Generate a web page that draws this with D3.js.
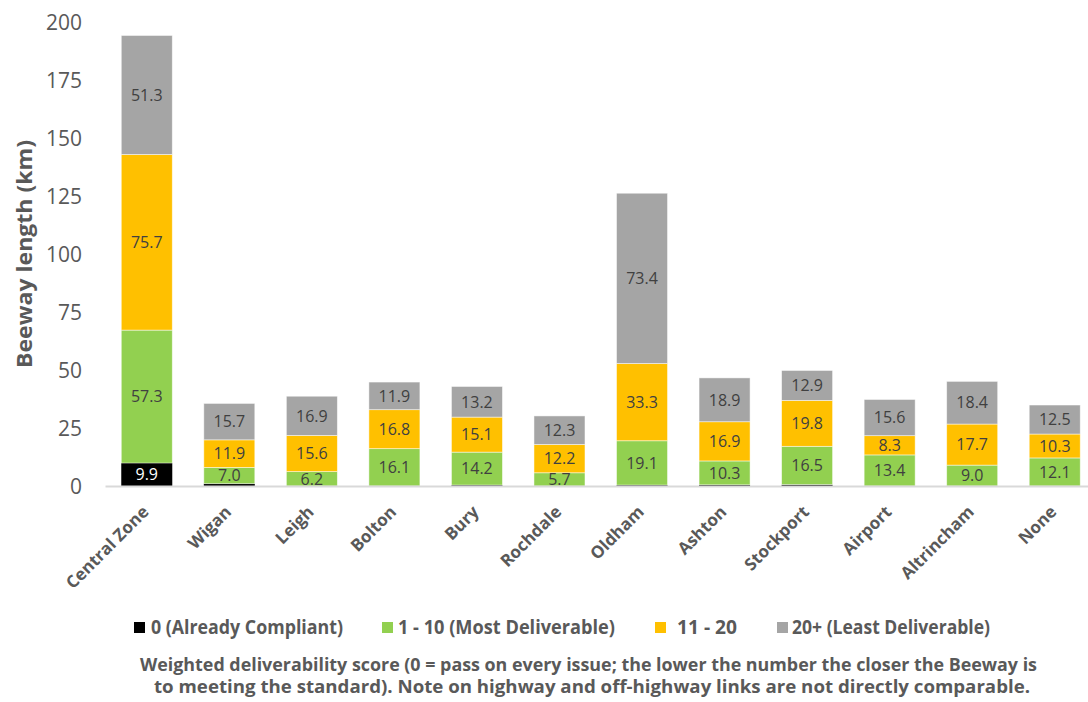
<!DOCTYPE html>
<html>
<head>
<meta charset="utf-8">
<script src="https://cdn.jsdelivr.net/npm/d3@7"></script>
<style>
html,body{margin:0;padding:0;background:#fff;}
svg{display:block;}
</style>
</head>
<body>
<svg id="chart" width="1088" height="702"></svg>
<script>
const categories = ["Central Zone","Wigan","Leigh","Bolton","Bury","Rochdale","Oldham","Ashton","Stockport","Airport","Altrincham","None"];
const compliant   = [9.9, 1.0, 0, 0, 0.4, 0, 0.4, 0.5, 0.6, 0, 0, 0];
const mostDeliv   = [57.3, 7.0, 6.2, 16.1, 14.2, 5.7, 19.1, 10.3, 16.5, 13.4, 9.0, 12.1];
const mid         = [75.7, 11.9, 15.6, 16.8, 15.1, 12.2, 33.3, 16.9, 19.8, 8.3, 17.7, 10.3];
const leastDeliv  = [51.3, 15.7, 16.9, 11.9, 13.2, 12.3, 73.4, 18.9, 12.9, 15.6, 18.4, 12.5];
const seriesNames = ["0 (Already Compliant)","1 - 10 (Most Deliverable)","11 - 20","20+ (Least Deliverable)"];
const yTicks = [0,25,50,75,100,125,150,175,200];
const yTitle = "Beeway length (km)";
const captionLines = ["Weighted deliverability score (0 = pass on every issue; the lower the number the closer the Beeway is",
                      "to meeting the standard). Note on highway and off-highway links are not directly comparable."];

const colors = ["#000000","#92D050","#FFC000","#A5A5A5"];
const labelColors = ["#FFFFFF","#404040","#404040","#404040"];
const seriesValues = [compliant, mostDeliv, mid, leastDeliv];
const keys = ["s0","s1","s2","s3"];
const table = categories.map((c,i)=>{
  const o = {cat:c};
  keys.forEach((k,j)=>o[k]=seriesValues[j][i]);
  return o;
});

const svg = d3.select("#chart");
const x = d3.scaleBand().domain(categories).range([105.5,1096]).paddingInner(0.382).paddingOuter(0.191);
const y = d3.scaleLinear().domain([0,200]).range([486,22]);

const stack = d3.stack().keys(keys)(table);

const g = svg.append("g");
stack.forEach((layer,si)=>{
  g.append("g").selectAll("rect").data(layer).join("rect")
    .attr("x",d=>x(d.data.cat))
    .attr("width",x.bandwidth())
    .attr("y",d=>y(d[1]))
    .attr("height",d=>Math.max(0,y(d[0])-y(d[1])))
    .attr("fill",colors[si])
    .attr("stroke",si===0?"none":"#ffffff")
    .attr("stroke-opacity",0.6)
    .attr("stroke-width",0.8);
});
// labels
stack.forEach((layer,si)=>{
  g.append("g").selectAll("text").data(layer.filter(d=>(d[1]-d[0])>=5)).join("text")
    .attr("x",d=>x(d.data.cat)+x.bandwidth()/2)
    .attr("y",d=>y((d[0]+d[1])/2))
    .attr("dy","0.36em")
    .attr("text-anchor","middle")
    .attr("font-family","'Open Sans', sans-serif")
    .attr("font-size",16)
    .attr("fill",labelColors[si])
    .text(d=>(d[1]-d[0]).toFixed(1));
});

// x axis line
svg.append("line").attr("x1",105.5).attr("x2",1096).attr("y1",y(0)+0.5).attr("y2",y(0)+0.5)
  .attr("stroke","#D9D9D9").attr("stroke-width",2);

// y tick labels
svg.append("g").selectAll("text").data(yTicks).join("text")
  .attr("x",82).attr("y",d=>y(d)).attr("dy","0.36em")
  .attr("text-anchor","end")
  .attr("font-family","'Open Sans', sans-serif")
  .attr("font-size",21)
  .attr("fill","#595959")
  .text(d=>d);

// y title
svg.append("text")
  .attr("transform","translate(32,254) rotate(-90)")
  .attr("text-anchor","middle")
  .attr("font-family","'Open Sans', sans-serif")
  .attr("font-weight",700)
  .attr("font-size",22)
  .attr("fill","#595959")
  .attr("textLength",228).attr("lengthAdjust","spacingAndGlyphs")
  .text(yTitle);

// category labels
svg.append("g").selectAll("text").data(categories).join("text")
  .attr("transform",d=>`translate(${x(d)+x.bandwidth()/2+3},513) rotate(-45)`)
  .attr("text-anchor","end")
  .attr("font-family","'Open Sans', sans-serif")
  .attr("font-weight",700)
  .attr("font-size",17)
  .attr("fill","#595959")
  .text(d=>d);

// legend
const legendLayout = [{sx:134,tx:151,w:192},{sx:382,tx:398,w:217},{sx:655,tx:677,w:60},{sx:777,tx:792,w:198}];
const lg = svg.append("g");
seriesNames.forEach((n,i)=>{
  const L = legendLayout[i];
  lg.append("rect").attr("x",L.sx).attr("y",622).attr("width",11).attr("height",11).attr("fill",colors[i]);
  lg.append("text").attr("x",L.tx).attr("y",634)
    .attr("font-family","'Open Sans', sans-serif").attr("font-weight",700).attr("font-size",20)
    .attr("fill","#595959")
    .attr("textLength",L.w).attr("lengthAdjust","spacingAndGlyphs")
    .text(n);
});

// caption
const capLayout = [{x:140,y:670.5,w:897},{x:154,y:692.5,w:876}];
captionLines.forEach((t,i)=>{
  svg.append("text").attr("x",capLayout[i].x).attr("y",capLayout[i].y)
    .attr("font-family","'Open Sans', sans-serif").attr("font-weight",700).attr("font-size",17)
    .attr("fill","#595959")
    .attr("textLength",capLayout[i].w).attr("lengthAdjust","spacingAndGlyphs")
    .text(t);
});
</script>
</body>
</html>
